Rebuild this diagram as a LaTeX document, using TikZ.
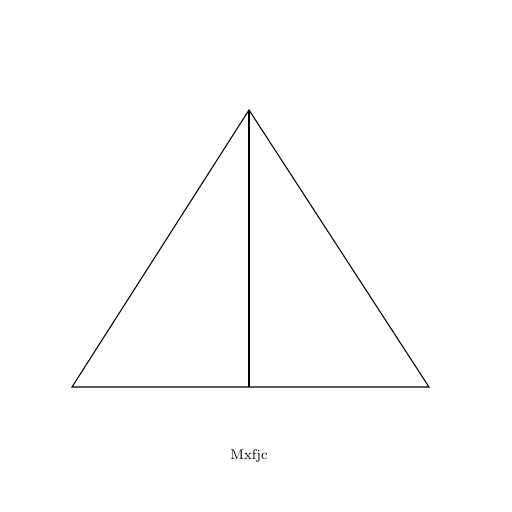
\documentclass[tikz,border=0pt]{standalone}
\usepackage{tikz}
\usetikzlibrary{positioning, calc}

\begin{document}
\begin{tikzpicture}[
    edge/.style={draw=black, line width=0.6pt},
    caption/.style={font=\footnotesize}
]

    % Frame
    \useasboundingbox (0, 0) rectangle (10.24, 10.24);

    % Corners
    \coordinate (apex) at (4.98, 8.04);
    \coordinate (left) at (1.44, 2.50);
    \coordinate (right) at (8.58, 2.50);
    \coordinate (foot) at (4.98, 2.50);

    % Triangle
    \draw[edge] (left) -- (apex) -- (right) -- cycle;

    % Height
    \draw[edge] (apex) -- (foot);

    % Label
    \node[caption] (label) at (4.98, 1.12) {Mxfjc};

\end{tikzpicture}
\end{document}
